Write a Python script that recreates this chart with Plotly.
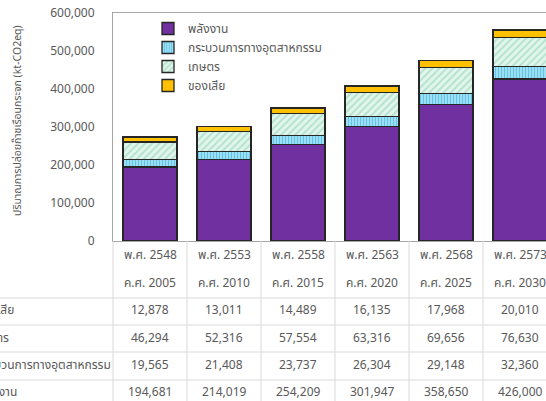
import plotly.graph_objects as go

# Years (Buddhist era / Common era) for each column
years_be = ["2548", "2553", "2558", "2563", "2568", "2573"]
years_ce = ["2005", "2010", "2015", "2020", "2025", "2030"]

# Greenhouse-gas emissions by sector (kt-CO2eq)
series_names = ["พลังงาน", "กระบวนการทางอุตสาหกรรม", "เกษตร", "ของเสีย"]
energy = [194681, 214019, 254209, 301947, 358650, 426000]
industry = [19565, 21408, 23737, 26304, 29148, 32360]
agriculture = [46294, 52316, 57554, 63316, 69656, 76630]
waste = [12878, 13011, 14489, 16135, 17968, 20010]

y_tick_vals = [0, 100000, 200000, 300000, 400000, 500000, 600000]
y_title = "ปริมาณการปล่อยก๊าซเรือนกระจก (kt-CO2eq)"

FONT = "Tahoma, 'Noto Sans Thai', 'Leelawadee UI', 'Noto Sans', sans-serif"
TXT = "#595959"
GRID = "#D9D9D9"
EDGE = "#262626"

W, H = 546, 401
L, T, B = 113, 13, 160
plot_w = W - L
plot_h = H - T - B
col_px = 74.0

cats = years_be


def px_x(px):
    return (px - L) / plot_w


def px_y(py):
    return (H - B - py) / plot_h


fig = go.Figure()

fig.add_bar(x=cats, y=energy, name=series_names[0],
            marker=dict(color="#7030A0", line=dict(color=EDGE, width=1.3)))
fig.add_bar(x=cats, y=industry, name=series_names[1],
            marker=dict(color="#8FDDF4", line=dict(color=EDGE, width=1.3),
                        pattern=dict(shape="|", fgcolor="#1E9FD6", bgcolor="#A8E6F8",
                                     size=3, solidity=0.45)))
fig.add_bar(x=cats, y=agriculture, name=series_names[2],
            marker=dict(color="#DFF3EA", line=dict(color=EDGE, width=1.3),
                        pattern=dict(shape="/", fgcolor="#86CFAF", bgcolor="#E2F5EC",
                                     size=5, solidity=0.4)))
fig.add_bar(x=cats, y=waste, name=series_names[3],
            marker=dict(color="#FFC000", line=dict(color=EDGE, width=1.3)))

shapes = []
# table column separators
for k in range(7):
    xp = px_x(L + col_px * k)
    shapes.append(dict(type="line", xref="paper", yref="paper",
                       x0=xp, x1=xp, y0=0, y1=px_y(H + 2),
                       line=dict(color=GRID, width=1)))
# table row separators
for py in [298, 325, 352, 380]:
    shapes.append(dict(type="line", xref="paper", yref="paper",
                       x0=px_x(-2), x1=1.02, y0=px_y(py), y1=px_y(py),
                       line=dict(color=GRID, width=1)))

annotations = []
cell_font = dict(family=FONT, size=12, color=TXT)
# header rows with years (category axis annotations use the category index)
for k, (be, ce) in enumerate(zip(years_be, years_ce)):
    annotations.append(dict(x=k, xref="x", y=px_y(255), yref="paper",
                            xanchor="center", yanchor="middle",
                            text="พ.ศ. " + be, showarrow=False, font=cell_font))
    annotations.append(dict(x=k, xref="x", y=px_y(283), yref="paper",
                            xanchor="center", yanchor="middle",
                            text="ค.ศ. " + ce, showarrow=False, font=cell_font))

row_specs = [(series_names[3], waste, 310), (series_names[2], agriculture, 338),
             (series_names[1], industry, 365), (series_names[0], energy, 392)]
for label, vals, py in row_specs:
    annotations.append(dict(x=px_x(-25), xref="paper", y=px_y(py), yref="paper",
                            xanchor="left", yanchor="middle",
                            text=label, showarrow=False, font=cell_font))
    for k, v in enumerate(vals):
        annotations.append(dict(x=k, xref="x", y=px_y(py), yref="paper",
                                xanchor="center", yanchor="middle",
                                text=f"{v:,}", showarrow=False, font=cell_font))

# rotated y-axis title
annotations.append(dict(x=px_x(18), xref="paper", y=px_y(121), yref="paper",
                        xanchor="center", yanchor="middle",
                        text=y_title, textangle=-90, showarrow=False,
                        font=dict(family=FONT, size=10.5, color=TXT)))

fig.update_layout(
    width=W, height=H,
    margin=dict(l=L, r=0, t=T, b=B, pad=0),
    barmode="stack", bargap=0.27,
    paper_bgcolor="white", plot_bgcolor="white",
    font=dict(family=FONT, size=12, color=TXT),
    showlegend=True,
    legend=dict(x=px_x(148), y=px_y(14), xanchor="left", yanchor="top",
                traceorder="normal", bgcolor="rgba(0,0,0,0)",
                font=dict(family=FONT, size=12, color=TXT),
                itemwidth=30, tracegroupgap=0),
    xaxis=dict(type="category", range=[-0.5, -0.5 + plot_w / col_px],
               showticklabels=False, ticks="", showgrid=False,
               showline=True, linecolor="#A6A6A6", linewidth=1, mirror=True,
               zeroline=False, fixedrange=True),
    yaxis=dict(range=[0, 600000], tickvals=y_tick_vals,
               ticktext=[f"{v:,}" for v in y_tick_vals],
               ticks="", ticklabelstandoff=15, showgrid=False,
               showline=True, linecolor="#A6A6A6", linewidth=1,
               zeroline=False, tickfont=dict(family=FONT, size=12, color=TXT)),
    shapes=shapes,
    annotations=annotations,
)

fig.write_html("out.html")
